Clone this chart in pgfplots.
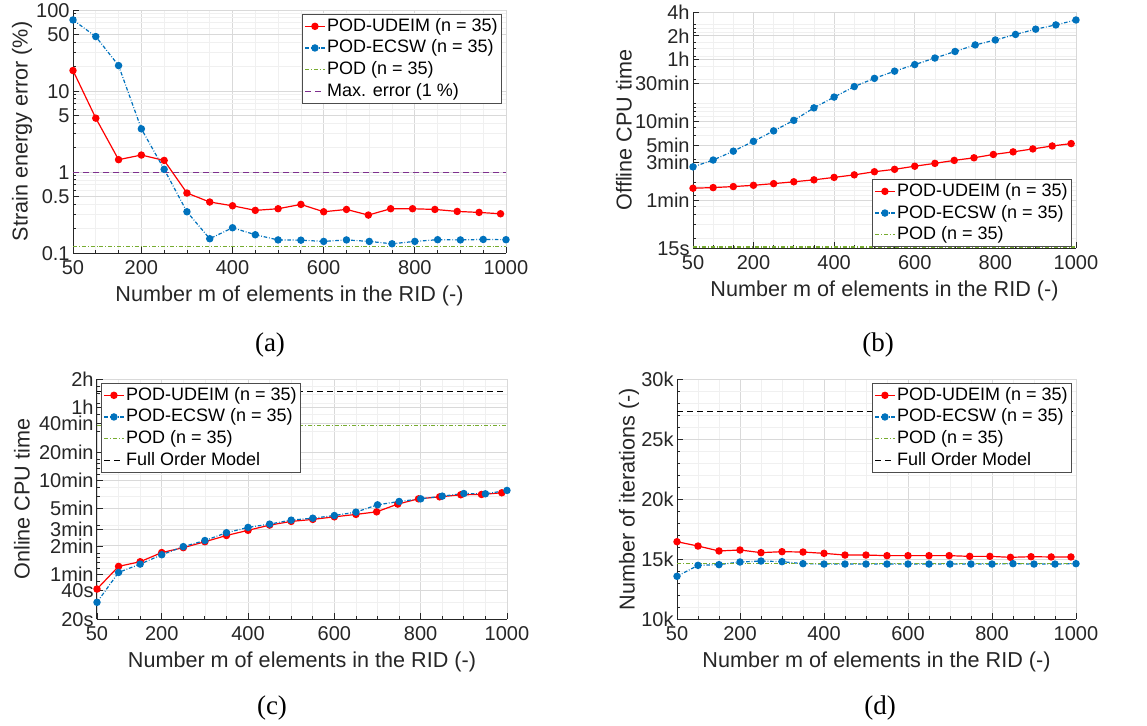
\documentclass[border=0pt]{standalone}
\usepackage{pgfplots}
\usepackage{pgfplotstable}
\pgfplotsset{compat=1.18}
\usepackage{fontspec}
\setmainfont{Liberation Sans}
\newfontfamily\capfont{Liberation Serif}

\definecolor{mred}{RGB}{255,0,0}
\definecolor{mblue}{RGB}{0,114,189}
\definecolor{mgreen}{RGB}{119,172,48}
\definecolor{mpurple}{RGB}{126,47,142}
\definecolor{mtext}{RGB}{38,38,38}

% red: POD-UDEIM, blue: POD-ECSW ; a = error (%), b = offline (s), c = online (s), d = iterations
\pgfplotstableread{
x a b c d
50 17.9 85.4 41.7 16440
100 4.62 87 72.7 16080
150 1.42 89.6 81.5 15670
200 1.62 93 102 15750
250 1.39 97.6 115 15530
300 0.55 103 133 15610
350 0.426 109 155 15580
400 0.383 117 176 15470
450 0.336 126 200 15330
500 0.352 138 219 15330
550 0.398 148 230 15280
600 0.323 162 245 15280
650 0.345 176 260 15280
698 0.294 192 277 15280
747 0.352 207 335 15220
795 0.352 228 381 15220
844 0.345 246 400 15140
893 0.326 268 421 15190
941 0.317 292 424 15170
988 0.305 313 442 15170
}\udeim

\pgfplotstableread{
x a b c d
50 75.4 159 30.1 13560
100 47 194 62.7 14470
150 20.6 251 76.9 14530
200 3.41 334 96.7 14750
250 1.08 453 118 14830
300 0.323 615 137 14780
350 0.150 885 166 14610
400 0.205 1211 189 14580
450 0.168 1644 205 14580
500 0.145 2088 226 14580
550 0.144 2574 237 14580
600 0.139 3116 253 14580
650 0.145 3773 275 14580
700 0.139 4564 329 14580
750 0.130 5523 357 14580
800 0.139 6378 381 14580
850 0.146 7498 407 14610
900 0.145 8738 434 14580
950 0.147 9886 431 14580
1000 0.146 11410 468 14610
}\ecsw

\pgfplotsset{
  mat/.style={
    scale only axis,
    axis lines*=left,
    axis line style={mtext, line width=0.5pt},
    tick align=inside,
    major tick length=3pt,
    minor tick length=1.6pt,
    every tick/.style={mtext, line width=0.4pt},
    grid=both,
    major grid style={black!15, line width=0.45pt},
    minor grid style={black!6, line width=0.35pt},
    xmin=50, xmax=1000,
    xtick={50,200,400,600,800,1000},
    xticklabels={50,200,400,600,800,1000},
    minor xtick={100,150,250,300,350,450,500,550,650,700,750,850,900,950},
    /pgf/number format/assume math mode=true,
    tick label style={font=\fontsize{10}{11}\selectfont, text=mtext},
    yticklabel style={inner xsep=1.5pt, inner ysep=0pt, text height=7.2pt, text depth=0pt},
    label style={font=\fontsize{10.8}{13}\selectfont, text=mtext},
    xlabel={Number m of elements in the RID (-)},
    xlabel style={yshift=1pt},
    clip=false,
    legend cell align=left,
    legend style={font=\fontsize{9}{10.5}\selectfont, draw=black!70, line width=0.5pt,
      fill=white, inner sep=1pt, row sep=1pt, text=black,
      nodes={inner sep=0.9pt}},
    legend image code/.code={\draw[mark repeat=2,mark phase=2]
      plot coordinates {(0cm,0cm) (0.17cm,0cm) (0.34cm,0cm)};},
  },
  ylab/.style={ylabel style={at={(axis description cs:0,0.5)}, anchor=center, yshift=#1}},
  red/.style={mred, line width=0.6pt, mark=*, mark size=1.55pt, mark options={solid, fill=mred}},
  blue/.style={mblue, line width=0.6pt, dash pattern=on 1.8pt off 0.9pt on 0.4pt off 0.9pt,
    mark=*, mark size=1.55pt, mark options={solid, fill=mblue}},
  pod/.style={mgreen, line width=0.75pt, dash pattern=on 2pt off 1pt on 0.4pt off 1pt},
}

\begin{document}
\begin{tikzpicture}
\path[use as bounding box] (0,0) rectangle (573.5pt,362.5pt);

% (a)
\begin{axis}[mat, at={(36.5pt,357.5pt)}, anchor=north west,
  width=216.5pt, height=121.5pt,
  ymode=log, ymin=0.1, ymax=100,
  ytick={0.1,0.5,1,5,10,50,100},
  yticklabels={0.1,0.5,1,5,10,50,100},
  minor ytick={0.2,0.3,0.4,0.6,0.7,0.8,0.9,2,3,4,6,7,8,9,20,30,40,60,70,80,90},
  ylabel={Strain energy error (\%)}, ylab=25.5pt,
  legend style={at={(1,1)}, anchor=north east, xshift=-2pt, yshift=-2pt},
]
\addplot[red] table[x=x,y=a] {\udeim};
\addplot[blue] table[x=x,y=a] {\ecsw};
\addplot[pod] coordinates {(50,0.12) (1000,0.12)};
\addplot[mpurple, line width=0.5pt, dash pattern=on 3pt off 2pt] coordinates {(50,1) (1000,1)};
\legend{POD-UDEIM (n = 35), POD-ECSW (n = 35), POD (n = 35), Max. error (1 \%)}
\end{axis}

% (b)
\begin{axis}[mat, at={(346.5pt,356.5pt)}, anchor=north west,
  width=191.5pt, height=118pt,
  ymode=log, ymin=15, ymax=14400,
  ytick={15,60,180,300,600,1800,3600,7200,14400},
  yticklabels={15s,1min,3min,5min,10min,30min,1h,2h,4h},
  minor ytick={20,30,40,50,70,80,90,100,200,400,500,700,800,900,1000,2000,3000,4000,5000,6000,8000,9000,10000},
  ylabel={Offline CPU time}, ylab=34.5pt,
  legend style={at={(1,0)}, anchor=south east, xshift=-2pt, yshift=0.5pt},
]
\addplot[red] table[x=x,y=b] {\udeim};
\addplot[blue] table[x=x,y=b] {\ecsw};
\addplot[pod] coordinates {(50,15.5) (1000,15.5)};
\legend{POD-UDEIM (n = 35), POD-ECSW (n = 35), POD (n = 35)}
\end{axis}

% (c)
\begin{axis}[mat, at={(48.5pt,173pt)}, anchor=north west,
  width=205pt, height=120pt,
  ymode=log, ymin=20, ymax=7200,
  ytick={20,40,60,120,180,300,600,1200,2400,3600,7200},
  yticklabels={20s,40s,1min,2min,3min,5min,10min,20min,40min,1h,2h},
  minor ytick={30,50,70,80,90,100,200,400,500,700,800,900,1000,2000,3000,4000,5000,6000},
  ylabel={Online CPU time}, ylab=37.5pt,
  legend style={at={(0,1)}, anchor=north west, xshift=2pt, yshift=-2pt},
]
\addplot[red] table[x=x,y=c] {\udeim};
\addplot[blue] table[x=x,y=c] {\ecsw};
\addplot[pod] coordinates {(50,2297) (1000,2297)};
\addplot[black, line width=0.5pt, dash pattern=on 3pt off 2pt] coordinates {(50,5284) (1000,5284)};
\legend{POD-UDEIM (n = 35), POD-ECSW (n = 35), POD (n = 35), Full Order Model}
\end{axis}

% (d)
\begin{axis}[mat, at={(338.5pt,173pt)}, anchor=north west,
  width=199.5pt, height=120pt,
  ymin=10000, ymax=30000,
  ytick={10000,15000,20000,25000,30000},
  yticklabels={10k,15k,20k,25k,30k},
  minor ytick={11000,12000,13000,14000,16000,17000,18000,19000,21000,22000,23000,24000,26000,27000,28000,29000},
  scaled y ticks=false,
  ylabel={Number of iterations (-)}, ylab=24pt,
  legend style={at={(1,1)}, anchor=north east, xshift=-2pt, yshift=-2pt},
]
\addplot[red] table[x=x,y=d] {\udeim};
\addplot[blue] table[x=x,y=d] {\ecsw};
\addplot[pod] coordinates {(50,14640) (1000,14640)};
\addplot[black, line width=0.5pt, dash pattern=on 3pt off 2pt] coordinates {(50,27330) (1000,27330)};
\legend{POD-UDEIM (n = 35), POD-ECSW (n = 35), POD (n = 35), Full Order Model}
\end{axis}

\node[font=\capfont\fontsize{13.5}{15}\selectfont] at (135pt,190pt) {(a)};
\node[font=\capfont\fontsize{13.5}{15}\selectfont] at (439pt,190pt) {(b)};
\node[font=\capfont\fontsize{13.5}{15}\selectfont] at (136pt,8.5pt) {(c)};
\node[font=\capfont\fontsize{13.5}{15}\selectfont] at (440pt,8.5pt) {(d)};
\end{tikzpicture}
\end{document}
